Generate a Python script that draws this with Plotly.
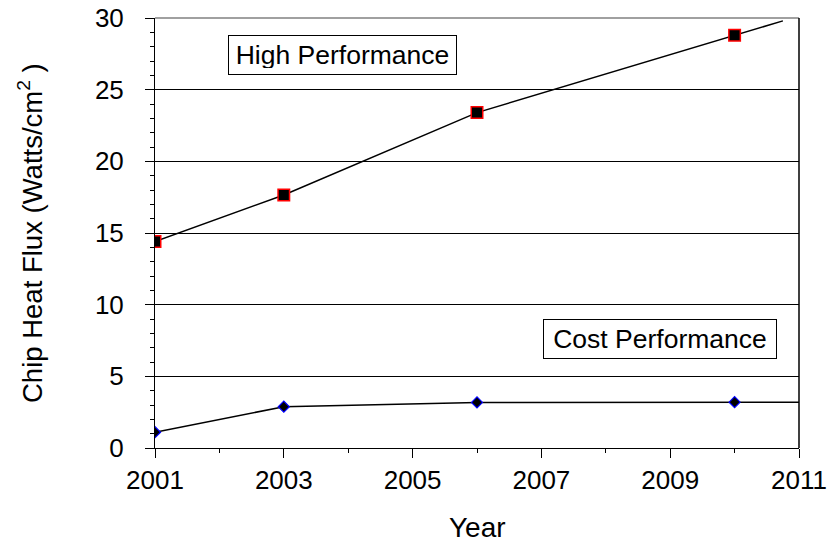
import plotly.graph_objects as go

# High Performance series
hp_years = [2001, 2003, 2006, 2010]
hp_flux = [14.4, 17.65, 23.4, 28.8]
# trend line continues past last point
hp_line_years = [2001, 2003, 2006, 2010, 2010.75]
hp_line_flux = [14.4, 17.65, 23.4, 28.8, 29.8]

# Cost Performance series
cp_years = [2001, 2003, 2006, 2010]
cp_flux = [1.1, 2.88, 3.18, 3.2]
cp_line_years = [2001, 2003, 2006, 2010, 2011]
cp_line_flux = [1.1, 2.88, 3.18, 3.2, 3.2]

x_ticks = [2001, 2003, 2005, 2007, 2009, 2011]
y_ticks = [0, 5, 10, 15, 20, 25, 30]

FONT = "Liberation Sans, Arial, sans-serif"

fig = go.Figure()
fig.add_trace(go.Scatter(x=hp_line_years, y=hp_line_flux, mode="lines",
                         line=dict(color="black", width=1.5), showlegend=False, hoverinfo="skip"))
fig.add_trace(go.Scatter(x=hp_years, y=hp_flux, mode="markers", name="High Performance",
                         marker=dict(symbol="square", size=11.5, color="black",
                                     line=dict(color="#ff0000", width=1.5)), showlegend=False))
fig.add_trace(go.Scatter(x=cp_line_years, y=cp_line_flux, mode="lines",
                         line=dict(color="black", width=1.5), showlegend=False, hoverinfo="skip"))
fig.add_trace(go.Scatter(x=cp_years, y=cp_flux, mode="markers", name="Cost Performance",
                         marker=dict(symbol="diamond", size=8.5, color="black",
                                     line=dict(color="#0000ff", width=1.2)), showlegend=False))

fig.update_layout(
    width=827, height=544,
    margin=dict(l=155, r=28, t=18, b=96),
    paper_bgcolor="white", plot_bgcolor="white",
    font=dict(family=FONT, size=26, color="black"),
    xaxis=dict(range=[2001, 2011], tickvals=x_ticks, ticktext=[str(v) for v in x_ticks],
               automargin=False, ticklabeloverflow="allow",
               ticks="outside", ticklen=9, tickcolor="black", tickwidth=1,
               minor=dict(dtick=1, tick0=2001, ticks="outside", ticklen=4, tickcolor="black", showgrid=False),
               showline=True, linecolor="black", linewidth=1, showgrid=False, zeroline=False,
               tickfont=dict(size=26)),
    yaxis=dict(range=[0, 30], tickvals=y_ticks, ticktext=[str(v) for v in y_ticks],
               automargin=False, ticklabeloverflow="allow",
               ticks="outside", ticklen=9, tickcolor="black", tickwidth=1,
               minor=dict(dtick=1, tick0=0, ticks="outside", ticklen=4, tickcolor="black", showgrid=False),
               showline=True, linecolor="black", linewidth=1, mirror=False,
               showgrid=True, gridcolor="black", gridwidth=1, zeroline=False,
               ticklabelstandoff=16,
               tickfont=dict(size=26)),
    shapes=[
        dict(type="line", xref="paper", yref="paper", x0=0, x1=1, y0=1, y1=1,
             line=dict(color="#808080", width=1.5)),
        dict(type="line", xref="paper", yref="paper", x0=1, x1=1, y0=0, y1=1,
             line=dict(color="black", width=1.5)),
    ],
    annotations=[
        dict(x=2003.91, y=27.42, xref="x", yref="y", text="High Performance", showarrow=False,
             font=dict(size=26.5, family=FONT), bordercolor="black", borderwidth=1,
             borderpad=6, width=215, height=26, bgcolor="white", xanchor="center", yanchor="middle"),
        dict(x=2008.84, y=7.6, xref="x", yref="y", text="Cost Performance", showarrow=False,
             font=dict(size=26.5, family=FONT), bordercolor="black", borderwidth=1,
             borderpad=6, width=220, height=26, bgcolor="white", xanchor="center", yanchor="middle"),
        # axis titles
        dict(x=0.5, y=0, xref="paper", yref="paper", text="Year", showarrow=False,
             font=dict(size=28, family=FONT), xanchor="center", yanchor="middle", yshift=-79),
        dict(x=0, y=0.5, xref="paper", yref="paper", text="Chip Heat Flux (Watts/cm<sup>2</sup> )",
             showarrow=False, textangle=-90, font=dict(size=27.5, family=FONT),
             xanchor="center", yanchor="middle", xshift=-125),
    ],
)

fig.write_html("out.html", config={"displayModeBar": False},
               post_script="document.body.style.margin='0';")
